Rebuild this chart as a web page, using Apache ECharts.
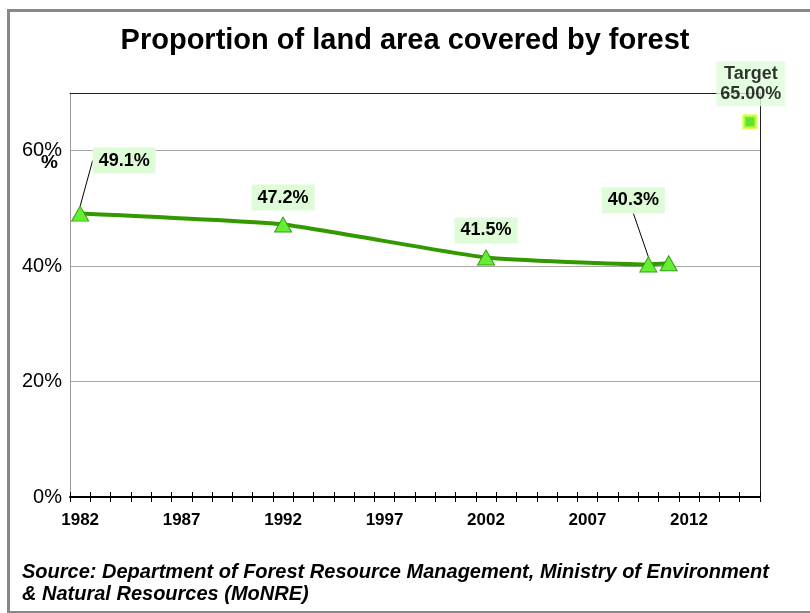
<!DOCTYPE html>
<html>
<head>
<meta charset="utf-8">
<script src="https://cdn.jsdelivr.net/npm/echarts@6/dist/echarts.min.js"></script>
<style>
html,body{margin:0;padding:0;background:#fff;}
#chart{width:810px;height:613px;}
</style>
</head>
<body>
<div id="chart"></div>
<script>
// ---- data ----
const years = [1982, 1992, 2002, 2010, 2011];
const forestPct = [49.1, 47.2, 41.5, 40.3, 40.5];
const labelledPoints = [true, true, true, true, false];
const targetYear = [2015];
const targetPct = [65.0];
const xTickLabels = [1982, 1987, 1992, 1997, 2002, 2007, 2012];
const yTickValues = [0, 20, 40, 60];
const titleText = 'Proportion of land area covered by forest';
const sourceLines = ['Source: Department of Forest Resource Management, Ministry of Environment', '& Natural Resources (MoNRE)'];

// ---- layout / style ----
const FONT = '"Liberation Sans", Arial, sans-serif';
const xMin = 1981.5, xMax = 2015.5;          // year boundaries (points sit mid-year)
const boundaries = [];
for (let b = xMin; b <= xMax + 1e-9; b += 1) boundaries.push(b);
const labelOffsets = [[44, -53], [0, -27], [0, -27], [-15, -64], [0, 0]];

const labelStyle = {
  fontFamily: FONT, fontWeight: 'bold', fontSize: 18, color: '#000',
  backgroundColor: '#dffcd8', padding: [5, 6, 3, 6]
};

const lineData = years.map((y, i) => {
  const item = { value: [y, forestPct[i]] };
  if (labelledPoints[i]) {
    item.label = Object.assign({ show: true, position: 'inside', formatter: forestPct[i].toFixed(1) + '%' }, labelStyle);
    item.labelLine = { show: i === 0 || i === 3 };
  } else {
    item.label = { show: false };
  }
  return item;
});

const chart = echarts.init(document.getElementById('chart'));
const grid = { left: 70, right: 50, top: 93, bottom: 116 };

chart.setOption({
  animation: false,
  backgroundColor: '#fff',
  title: {
    text: titleText, left: 'center', top: 21,
    textStyle: { fontFamily: FONT, fontWeight: 'bold', fontSize: 29, color: '#000' }
  },
  grid: grid,
  xAxis: [
    {
      type: 'value', min: xMin, max: xMax, position: 'bottom',
      axisLine: { show: true, onZero: false, lineStyle: { color: '#000', width: 2 } },
      axisTick: { show: true, customValues: boundaries, length: 5, lineStyle: { color: '#000', width: 1 } },
      axisLabel: { customValues: xTickLabels, formatter: v => String(v), fontFamily: FONT, fontWeight: 'bold', fontSize: 17, color: '#000', margin: 15 },
      splitLine: { show: false }
    },
    {
      type: 'value', min: xMin, max: xMax, position: 'bottom',
      axisLine: { show: false, onZero: false },
      axisTick: { show: true, inside: true, customValues: boundaries, length: 5, lineStyle: { color: '#000', width: 1 } },
      axisLabel: { show: false }, splitLine: { show: false }
    },
    {
      type: 'value', min: xMin, max: xMax, position: 'top',
      axisLine: { show: true, onZero: false, lineStyle: { color: '#222', width: 1 } },
      axisTick: { show: false }, axisLabel: { show: false }, splitLine: { show: false }
    }
  ],
  yAxis: [
    {
      type: 'value', min: 0, max: 70, interval: 20, position: 'left',
      axisLine: { show: true, onZero: false, lineStyle: { color: '#999', width: 1 } },
      axisTick: { show: false },
      axisLabel: {
        customValues: yTickValues,
        formatter: v => v + '%', fontFamily: FONT, fontSize: 20, color: '#000', margin: 8
      },
      splitLine: { show: true, lineStyle: { color: '#a6a6a6', width: 1 } }
    },
    {
      type: 'value', min: 0, max: 70, position: 'right',
      axisLine: { show: true, onZero: false, lineStyle: { color: '#222', width: 1 } },
      axisTick: { show: false }, axisLabel: { show: false }, splitLine: { show: false }
    }
  ],
  series: [
    {
      type: 'line', xAxisIndex: 0, yAxisIndex: 0,
      data: lineData,
      smooth: 0.15,
      lineStyle: { color: '#339900', width: 4 },
      symbol: 'triangle', symbolSize: [17, 15],
      itemStyle: { color: '#66ee33', borderColor: '#33a010', borderWidth: 1 },
      labelLine: { show: false, lineStyle: { color: '#000', width: 1 } },
      labelLayout: function (p) {
        const o = labelOffsets[p.dataIndex];
        return { dx: o[0], dy: o[1] };
      },
      z: 3
    },
    {
      type: 'scatter', xAxisIndex: 0, yAxisIndex: 0,
      data: targetYear.map((y, i) => [y, targetPct[i]]),
      symbol: 'rect', symbolSize: 12,
      itemStyle: { color: '#33dd00', borderColor: '#ccff33', borderWidth: 3 },
      label: Object.assign({
        show: true, position: 'inside', offset: [1, -38], lineHeight: 20,
        formatter: p => 'Target\n' + p.value[1].toFixed(2) + '%'
      }, labelStyle, { padding: [3, 4, 2, 4] }),
      z: 4
    }
  ],
  graphic: [
    {
      type: 'rect', left: 6, top: 8, silent: true,
      shape: { width: 840, height: 602 },
      style: { fill: 'none', stroke: '#888', lineWidth: 3 }
    },
    {
      type: 'text', left: 41, top: 153,
      style: { text: '%', fontFamily: FONT, fontWeight: 'bold', fontSize: 19, fill: '#000' }
    },
    {
      type: 'text', left: 22, top: 561,
      style: {
        text: sourceLines.join('\n'), fontFamily: FONT, fontWeight: 'bold', fontStyle: 'italic',
        fontSize: 20, lineHeight: 22, fill: '#000'
      }
    }
  ]
});
</script>
</body>
</html>
